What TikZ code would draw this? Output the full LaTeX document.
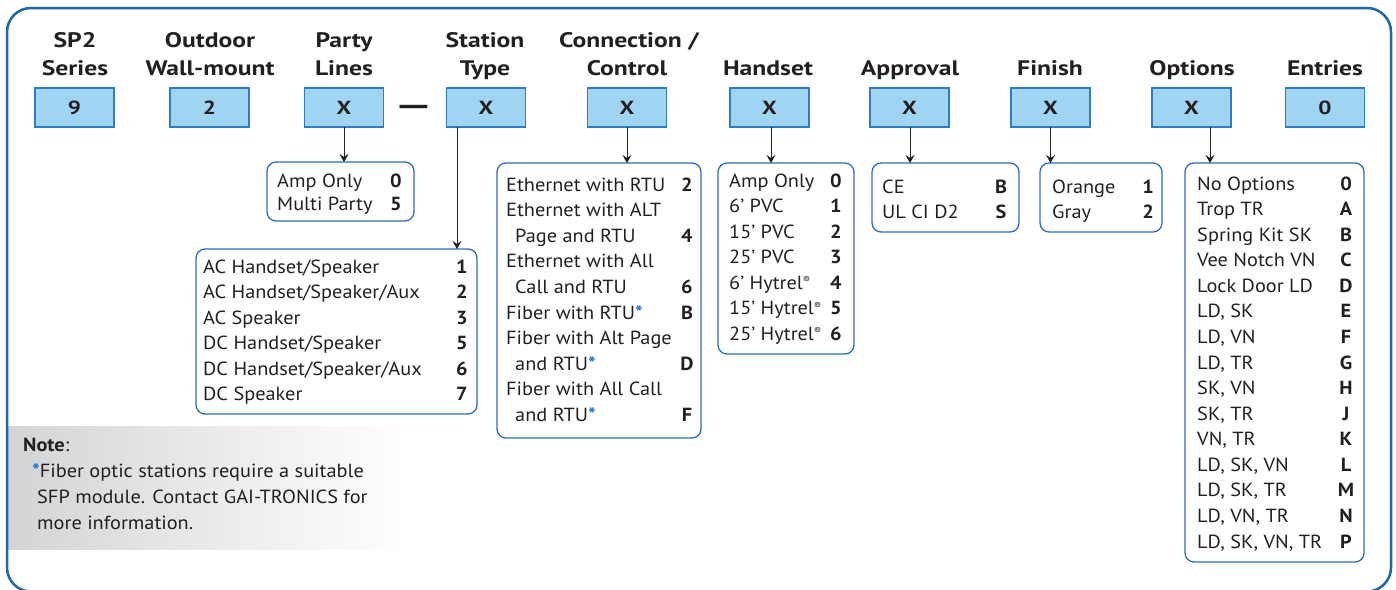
\documentclass[tikz,border=0pt]{standalone}
\usepackage{fontspec}
\setmainfont[FakeStretch=1.07]{PT Sans}
\newfontfamily\headfont[FakeStretch=1.22]{PT Sans}
\usetikzlibrary{arrows.meta}
\definecolor{frameblue}{HTML}{1F64AE}
\definecolor{boxblue}{HTML}{2E7CC3}
\definecolor{boxfill}{HTML}{9FD5F2}
\definecolor{listblue}{HTML}{2A6DB5}
\definecolor{astblue}{HTML}{1E73BE}
\definecolor{notegray}{HTML}{D3D4D6}
\definecolor{txt}{HTML}{231F20}
\newcommand\blueast{\textcolor{astblue}{\textbf{*}}}
\newcommand\regmark{\raisebox{0.55ex}{\fontsize{10}{10}\selectfont ®}}
\newcommand\optrow[6]{\node[rowtext] (#1) at (#2,#4) {#5};\node[rownum] (#1n) at (#3,#4) {#6};}
\newcommand\listbox[5]{\node[listbox, minimum width={(#4)-(#2)}, minimum height={(#5)-(#3)}] (#1) at ({(#2+#4)/2},{(#3+#5)/2}) {};}
\begin{document}
\begin{tikzpicture}[x=1pt,y=-1pt,
  hbox/.style={draw=boxblue, fill=boxfill, line width=1.2pt, minimum width=79pt, minimum height=39pt, inner sep=0pt, outer sep=0pt, font=\headfont\bfseries\fontsize{19}{19}\selectfont, text=txt},
  head/.style={anchor=base, inner sep=0pt, font=\headfont\bfseries\fontsize{21}{21}\selectfont, text=txt},
  listbox/.style={draw=listblue, line width=1.3pt, rounded corners=9pt, inner sep=0pt, outer sep=0pt},
  rowtext/.style={anchor=base west, inner sep=0pt, font=\fontsize{19}{19}\selectfont, text=txt},
  rownum/.style={anchor=base, inner sep=0pt, font=\bfseries\fontsize{19}{19}\selectfont, text=txt},
  arr/.style={draw=txt, line width=1pt, -{Stealth[length=8pt,width=9pt,inset=3pt]}},
]
\useasboundingbox (0,0) rectangle (1396,589);
% note background
\shade[left color=notegray, right color=white] (8,426) rectangle (405,549);
% frame
\draw[frameblue, line width=2.5pt, rounded corners=24pt] (7,8) rectangle (1391,591.5);

% headers
\node[head] (t1a) at (75,47.5) {SP2};
\node[head] (t1b) at (75,75.5) {Series};
\node[head] (t2a) at (210,47.5) {Outdoor};
\node[head] (t2b) at (210,75.5) {Wall-mount};
\node[head] (t3a) at (344,47.5) {Party};
\node[head] (t3b) at (344,75.5) {Lines};
\node[head] (t4a) at (485,47.5) {Station};
\node[head] (t4b) at (485,75.5) {Type};
\node[head] (t5a) at (629,47.5) {Connection /};
\node[head] (t5b) at (627,75.5) {Control};
\node[head] (t6) at (768,75.5) {Handset};
\node[head] (t7) at (910,75.5) {Approval};
\node[head] (t8) at (1050,75.5) {Finish};
\node[head] (t9) at (1192,75.5) {Options};
\node[head] (t10) at (1325,75.5) {Entries};

% header boxes
\node[hbox] (h1) at (74.5,107.5) {9};
\node[hbox] (h2) at (209.5,107.5) {2};
\node[hbox] (h3) at (344,107.5) {X};
\node[inner sep=0pt, font=\headfont\bfseries\fontsize{21}{21}\selectfont, text=txt] (dash) at (413.5,110.5) {\scalebox{1.8}[1.4]{—}};
\node[hbox] (h4) at (486,107.5) {X};
\node[hbox] (h5) at (627,107.5) {X};
\node[hbox] (h6) at (769.5,107.5) {X};
\node[hbox] (h7) at (909.5,107.5) {X};
\node[hbox] (h8) at (1050.5,107.5) {X};
\node[hbox] (h9) at (1191.5,107.5) {X};
\node[hbox] (h10) at (1325,107.5) {0};

% list boxes
\listbox{lParty}{267}{162}{414}{221}
\listbox{lStation}{196}{249}{477}{414}
\listbox{lConn}{497}{163}{701}{438}
\listbox{lHand}{718}{163}{854}{354}
\listbox{lAppr}{872}{163}{1019}{232}
\listbox{lFin}{1040}{163}{1162}{232}
\listbox{lOpt}{1185}{163}{1364}{562}

% connectors
\draw[arr] (h3.south) -- (h3.south |- lParty.north);
\draw[arr] (h4.south -| 457,0) -- (lStation.north -| 457,0);
\draw[arr] (h5.south) -- (h5.south |- lConn.north);
\draw[arr] (h6.south -| 771,0) -- (lHand.north -| 771,0);
\draw[arr] (h7.south -| 910,0) -- (lAppr.north -| 910,0);
\draw[arr] (h8.south -| 1050.5,0) -- (lFin.north -| 1050.5,0);
\draw[arr] (h9.south -| 1210,0) -- (lOpt.north -| 1210,0);

% party lines
\optrow{p1}{277}{396}{187}{Amp Only}{0}
\optrow{p2}{277}{396}{210}{Multi Party}{5}

% station type
\optrow{s1}{203}{462}{273}{AC Handset/Speaker}{1}
\optrow{s2}{203}{462}{298.5}{AC Handset/Speaker/Aux}{2}
\optrow{s3}{203}{462}{324}{AC Speaker}{3}
\optrow{s4}{203}{462}{349.5}{DC Handset/Speaker}{5}
\optrow{s5}{203}{462}{375}{DC Handset/Speaker/Aux}{6}
\optrow{s6}{203}{462}{400.5}{DC Speaker}{7}

% connection / control
\optrow{c1}{506}{687}{191}{Ethernet with RTU}{2}
\node[rowtext] (c2) at (506,216.6) {Ethernet with ALT};
\optrow{c3}{515}{687}{242.2}{Page and RTU}{4}
\node[rowtext] (c4) at (506,267.8) {Ethernet with All};
\optrow{c5}{515}{687}{293.4}{Call and RTU}{6}
\optrow{c6}{506}{687}{319}{Fiber with RTU\blueast}{B}
\node[rowtext] (c7) at (506,344.6) {Fiber with Alt Page};
\optrow{c8}{515}{687}{370.2}{and RTU\blueast}{D}
\node[rowtext] (c9) at (506,395.8) {Fiber with All Call};
\optrow{c10}{515}{687}{421.4}{and RTU\blueast}{F}

% handset
\optrow{k1}{729}{836}{187}{Amp Only}{0}
\optrow{k2}{729}{836}{212.5}{6’ PVC}{1}
\optrow{k3}{729}{836}{238}{15’ PVC}{2}
\optrow{k4}{729}{836}{263.5}{25’ PVC}{3}
\optrow{k5}{729}{836}{289}{6’ Hytrel\regmark}{4}
\optrow{k6}{729}{836}{314.5}{15’ Hytrel\regmark}{5}
\optrow{k7}{729}{836}{340}{25’ Hytrel\regmark}{6}

% approval
\optrow{a1}{882}{1001}{193}{CE}{B}
\optrow{a2}{882}{1001}{218}{UL CI D2}{S}

% finish
\optrow{f1}{1052}{1148}{193}{Orange}{1}
\optrow{f2}{1052}{1148}{218}{Gray}{2}

% options
\optrow{o1}{1197}{1346}{190}{No Options}{0}
\optrow{o2}{1197}{1346}{215.6}{Trop TR}{A}
\optrow{o3}{1197}{1346}{241.1}{Spring Kit SK}{B}
\optrow{o4}{1197}{1346}{266.7}{Vee Notch VN}{C}
\optrow{o5}{1197}{1346}{292.3}{Lock Door LD}{D}
\optrow{o6}{1197}{1346}{317.9}{LD, SK}{E}
\optrow{o7}{1197}{1346}{343.4}{LD, VN}{F}
\optrow{o8}{1197}{1346}{369}{LD, TR}{G}
\optrow{o9}{1197}{1346}{394.6}{SK, VN}{H}
\optrow{o10}{1197}{1346}{420.1}{SK, TR}{J}
\optrow{o11}{1197}{1346}{445.7}{VN, TR}{K}
\optrow{o12}{1197}{1346}{471.3}{LD, SK, VN}{L}
\optrow{o13}{1197}{1346}{496.9}{LD, SK, TR}{M}
\optrow{o14}{1197}{1346}{522.4}{LD, VN, TR}{N}
\optrow{o15}{1197}{1346}{548}{LD, SK, VN, TR}{P}

% note
\node[rowtext] (n0) at (23,451) {\textbf{Note}:};
\node[rowtext] (n1) at (32,477) {\blueast Fiber optic stations require a suitable};
\node[rowtext] (n2) at (37,503) {SFP module. Contact GAI-TRONICS for};
\node[rowtext] (n3) at (37,529) {more information.};
\end{tikzpicture}
\end{document}
